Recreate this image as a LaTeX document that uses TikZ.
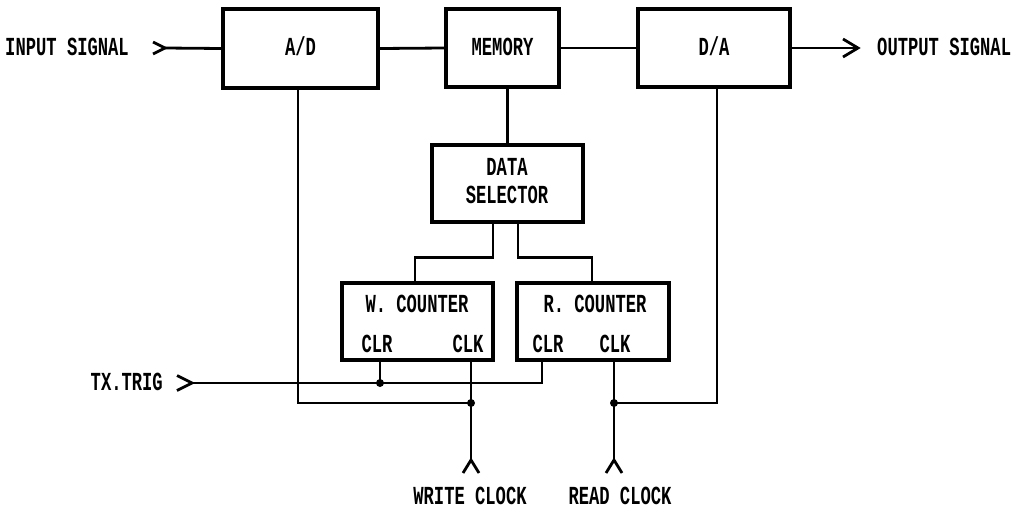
\documentclass[tikz,border=0pt]{standalone}
\usepackage{fontspec}
\newfontfamily\lab{Liberation Mono}[FakeStretch=0.66]
\begin{document}
\begin{tikzpicture}[x=1pt,y=-1pt,
  txt/.style={font=\lab\bfseries\fontsize{26}{28}\selectfont, inner sep=0pt, text height=14.8pt, text depth=0pt},
  box/.style={draw, line width=3.6pt, inner sep=0pt, txt},
  wire/.style={line width=2.8pt},
  jdot/.style={circle, fill, inner sep=0pt, minimum size=8pt}]
\useasboundingbox (0,0) rectangle (1020,509);
% boxes
\node[box, minimum width=155pt, minimum height=79pt] (ad) at (300.5,48.5) {A/D};
\node[box, minimum width=113pt, minimum height=78pt] (mem) at (502.5,48) {MEMORY};
\node[box, minimum width=152pt, minimum height=78pt] (da) at (714,48) {D/A};
\node[box, minimum width=151pt, minimum height=77pt] (ds) at (507.5,183.5) {};
\node[txt] (dst1) at (507,168) {DATA};
\node[txt] (dst2) at (507,196) {SELECTOR};
\node[box, minimum width=151pt, minimum height=77pt] (wc) at (417.5,321.5) {};
\node[txt] (wct) at (417,305) {W. COUNTER};
\node[txt] (wclr) at (377,345) {CLR};
\node[txt] (wclk) at (468,345) {CLK};
\node[box, minimum width=152pt, minimum height=77pt] (rc) at (593,321.5) {};
\node[txt] (rct) at (595,305) {R. COUNTER};
\node[txt] (rclr) at (548,345) {CLR};
\node[txt] (rclk) at (615,345) {CLK};
% outside labels
\node[txt, anchor=east] (insig) at (129,48) {INPUT SIGNAL};
\node[txt, anchor=west] (outsig) at (877,48) {OUTPUT SIGNAL};
\node[txt, anchor=east] (txtrig) at (163,383) {TX.TRIG};
\node[txt] (wclock) at (470,497) {WRITE CLOCK};
\node[txt] (rclock) at (620,497) {READ CLOCK};
% coordinates
\coordinate (inA) at (165,48);
\coordinate (outtip) at (858,48);
\coordinate (txin) at (192,383);
\coordinate (wclrdot) at (380,383);
\coordinate (wclkdot) at (471,403);
\coordinate (rclkdot) at (614,403);
\coordinate (wfork) at (471,460);
\coordinate (rfork) at (614,460);
% signal path
\draw[wire] ([shift={(-12,-6)}]inA) -- (inA) -- ([shift={(-12,6)}]inA);
\draw[wire] (inA) -- (ad.west);
\draw[wire] (ad.east) -- (mem.west);
\draw[wire] (mem.east) -- (da.west);
\draw[wire] (da.east) -- (outtip);
\draw[wire] ([shift={(-15,-9)}]outtip) -- (outtip) -- ([shift={(-15,9)}]outtip);
\draw[wire] (ds.north) -- (ds.north |- mem.south);
\draw[wire] ([xshift=-14.5pt]ds.south) -- ++(0,34) -| ([xshift=-2.5pt]wc.north);
\draw[wire] ([xshift=10.5pt]ds.south) -- ++(0,34) -| ([xshift=-1pt]rc.north);
% clocks
\draw[wire] ([xshift=-2.5pt]ad.south) |- (wclkdot);
\draw[wire] (wc.south -| wfork) -- (wfork);
\draw[wire] ([shift={(-8,13)}]wfork) -- (wfork) -- ([shift={(8,13)}]wfork);
\node[jdot] (wd) at (wclkdot) {};
\draw[wire] (rc.south -| rfork) -- (rfork);
\draw[wire] ([shift={(-8,13)}]rfork) -- (rfork) -- ([shift={(8,13)}]rfork);
\draw[wire] (rclkdot) -| ([xshift=3pt]da.south);
\node[jdot] (rd) at (rclkdot) {};
% trigger
\draw[wire] ([shift={(-15,-7.5)}]txin) -- (txin) -- ([shift={(-15,7.5)}]txin);
\draw[wire] (txin) -| ([xshift=-51pt]rc.south);
\draw[wire] (wc.south -| wclrdot) -- (wclrdot);
\node[jdot] (cd) at (wclrdot) {};
\end{tikzpicture}
\end{document}
